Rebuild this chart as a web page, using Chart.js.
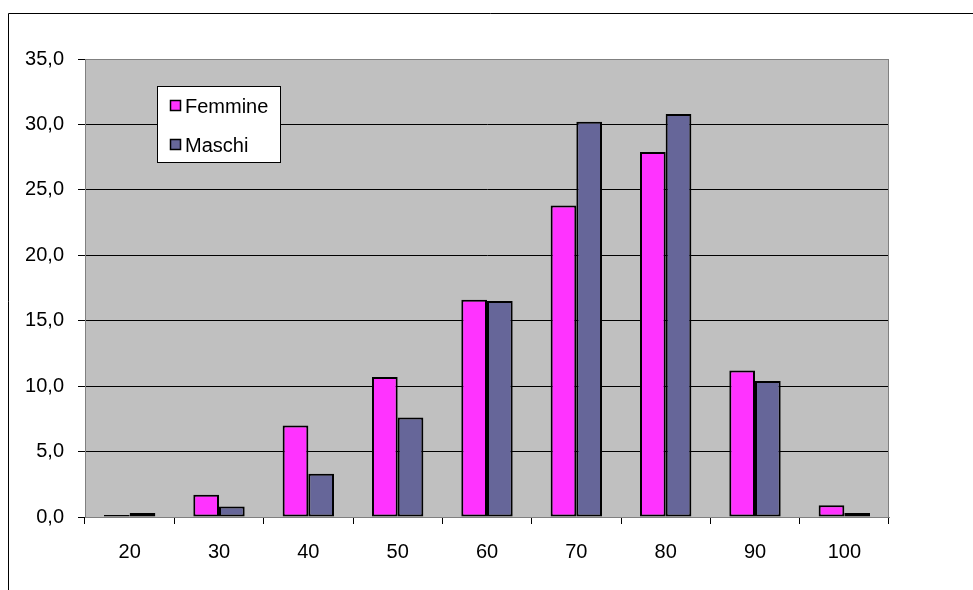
<!DOCTYPE html>
<html>
<head>
<meta charset="utf-8">
<title>Femmine / Maschi</title>
<script src="https://cdn.jsdelivr.net/npm/chart.js@4.4.1/dist/chart.umd.min.js"></script>
<style>
  html, body { margin: 0; padding: 0; background: #fff; overflow: hidden; }
  #wrap { position: relative; width: 973px; height: 590px; }
</style>
</head>
<body>
<div id="wrap"><canvas id="chart"></canvas></div>
<script>
const categories = ["20", "30", "40", "50", "60", "70", "80", "90", "100"];
const femmine = [0.15, 1.7, 7.0, 10.7, 16.6, 23.8, 27.9, 11.2, 0.9];
const maschi = [0.3, 0.8, 3.3, 7.6, 16.5, 30.2, 30.8, 10.4, 0.3];
const yTickLabels = ["0,0", "5,0", "10,0", "15,0", "20,0", "25,0", "30,0", "35,0"];

const FONT = "'Liberation Sans', Arial, sans-serif";
const FONT_SIZE = 20;

// grey plot area, its border, the outer frame and the boxed legend
const excelLook = {
  id: "excelLook",
  beforeDraw(chart) {
    const { ctx, chartArea: a } = chart;
    ctx.save();
    ctx.fillStyle = "#C0C0C0";
    ctx.fillRect(a.left, a.top, a.right - a.left, a.bottom - a.top);
    ctx.restore();
  },
  afterDraw(chart) {
    const { ctx, chartArea: a } = chart;
    ctx.save();
    ctx.strokeStyle = "#808080";
    ctx.lineWidth = 1;
    ctx.strokeRect(a.left + 0.5, a.top + 0.5, a.right - a.left - 1, a.bottom - a.top);

    // outer frame
    ctx.strokeStyle = "#000";
    ctx.beginPath();
    ctx.moveTo(8.5, chart.height);
    ctx.lineTo(8.5, 13.5);
    ctx.lineTo(chart.width, 13.5);
    ctx.stroke();

    // legend
    const bx = 157.5, by = 86.5, bw = 123, bh = 76;
    ctx.fillStyle = "#fff";
    ctx.fillRect(bx, by, bw, bh);
    ctx.strokeRect(bx, by, bw, bh);
    ctx.font = FONT_SIZE + "px " + FONT;
    ctx.textBaseline = "middle";
    chart.data.datasets.forEach((ds, i) => {
      const cy = 106 + i * 39;
      ctx.fillStyle = ds.backgroundColor;
      ctx.fillRect(170.5, cy - 5.5, 10, 10);
      ctx.lineWidth = 1.5;
      ctx.strokeStyle = "#000";
      ctx.strokeRect(170.5, cy - 5.5, 10, 10);
      ctx.fillStyle = "#000";
      ctx.fillText(ds.label, 185, cy + 1);
    });
    ctx.restore();
  }
};

new Chart(document.getElementById("chart"), {
  type: "bar",
  data: {
    labels: categories,
    datasets: [
      {
        label: "Femmine",
        data: femmine,
        backgroundColor: "#FF33FF",
        borderColor: "#000",
        borderWidth: 2,
        borderSkipped: false
      },
      {
        label: "Maschi",
        data: maschi,
        backgroundColor: "#666699",
        borderColor: "#000",
        borderWidth: 2,
        borderSkipped: false
      }
    ]
  },
  options: {
    responsive: true,
    maintainAspectRatio: false,
    animation: false,
    devicePixelRatio: 1,
    layout: { padding: { top: 59, right: 84, bottom: 0, left: 0 } },
    datasets: { bar: { categoryPercentage: 0.575, barPercentage: 1.0 } },
    plugins: {
      legend: { display: false },
      tooltip: { enabled: false }
    },
    scales: {
      x: {
        afterFit: axis => { axis.height = 73; },
        grid: {
          offset: true,
          drawOnChartArea: false,
          drawTicks: true,
          tickLength: 7,
          color: "#000"
        },
        border: { color: "#808080", width: 1 },
        ticks: {
          color: "#000",
          padding: 16,
          font: { family: FONT, size: FONT_SIZE }
        }
      },
      y: {
        min: 0,
        max: 35,
        afterFit: axis => { axis.width = 85; },
        afterBuildTicks: axis => {
          axis.ticks = yTickLabels.map((_, i) => ({ value: i * 5 }));
        },
        grid: {
          color: "#000",
          lineWidth: 1,
          drawTicks: true,
          tickLength: 7,
          tickColor: "#000"
        },
        border: { color: "#808080", width: 1 },
        ticks: {
          color: "#000",
          padding: 14,
          font: { family: FONT, size: FONT_SIZE },
          callback: (value, index) => yTickLabels[index]
        }
      }
    }
  },
  plugins: [excelLook]
});
</script>
</body>
</html>
